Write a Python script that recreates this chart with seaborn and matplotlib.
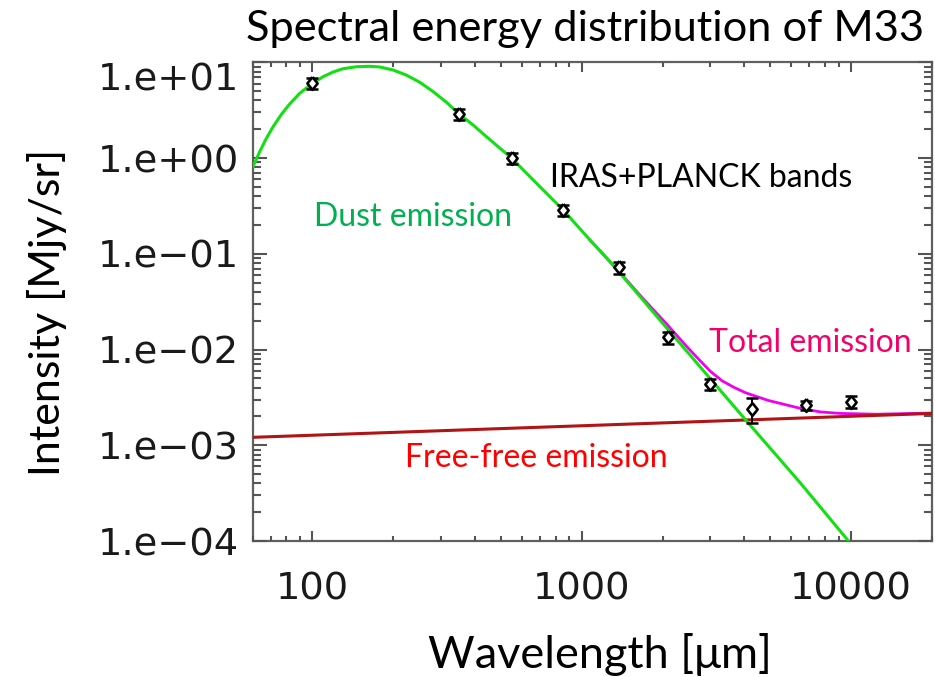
import numpy as np
import pandas as pd
import matplotlib
matplotlib.use("Agg")
import matplotlib.pyplot as plt
import matplotlib.ticker as mticker
import matplotlib.transforms as mtransforms
import seaborn as sns

# IRAS 100 um + PLANCK band photometry of M33
band_wavelength = [100, 350, 550, 850, 1380, 2100, 3000, 4300, 6800, 10000]
band_intensity = [6.04, 2.88, 0.99, 0.286, 0.0721, 0.01337, 0.00435, 0.00242, 0.00262, 0.00284]
band_error = [0.8, 0.38, 0.13, 0.038, 0.010, 0.0019, 0.0006, 0.0007, 0.00027, 0.0004]

# Dust emission model
dust_wavelength = [60.1, 63.7, 67.45, 71.4, 76.7, 82.3, 89.7, 100, 109.5, 119.3, 130,
                   145.8, 163.3, 178, 199.4, 223, 250.6, 281, 314.8, 348, 395.4, 443,
                   550, 700, 854, 1074, 1221, 1387, 1690, 2070, 2527, 3000, 4225, 6479,
                   9790]
dust_intensity = [0.811, 1.164, 1.607, 2.12, 2.862, 3.667, 4.745, 6.03, 7.07, 7.92, 8.57,
                  8.99, 9.08, 8.93, 8.31, 7.36, 6.18, 4.93, 3.82, 2.93, 2.21, 1.67,
                  0.993, 0.501, 0.286, 0.139, 0.0946, 0.0628, 0.03282, 0.01674, 0.00874,
                  0.00497, 0.00162, 4.06e-4, 1.0e-4]

# Free-free emission model
ff_wavelength = [60, 20000]
ff_intensity = [1.21e-3, 2.15e-3]

# Total emission (dust + free-free)
total_wavelength = [1074, 1387, 1690, 2070, 2456, 2706, 3000, 3315, 3661, 4047, 4474,
                    4927, 5458, 6479, 7690, 9128, 12500, 20000]
total_intensity = [0.139, 0.0636, 0.0340, 0.0184, 0.01074, 0.00803, 0.00595, 0.00473,
                   0.00405, 0.00355, 0.00322, 0.00294, 0.00274, 0.00243, 0.00223,
                   0.00215, 0.00211, 0.00217]

x_ticks = [100, 1000, 10000]
x_tick_labels = ["100", "1000", "10000"]
y_ticks = [1e-4, 1e-3, 1e-2, 1e-1, 1e0, 1e1]
y_tick_labels = ["1.e\u221204", "1.e\u221203", "1.e\u221202", "1.e\u221201", "1.e+00", "1.e+01"]

bands = pd.DataFrame({"wavelength": band_wavelength, "intensity": band_intensity,
                      "error": band_error})
dust = pd.DataFrame({"wavelength": dust_wavelength, "intensity": dust_intensity})
ff = pd.DataFrame({"wavelength": ff_wavelength, "intensity": ff_intensity})
total = pd.DataFrame({"wavelength": total_wavelength, "intensity": total_intensity})

axis_grey = "#555555"
sns.set_theme(style="ticks")
plt.rcParams["font.family"] = ["DejaVu Sans"]
plt.rcParams.update({
    "axes.axisbelow": False,
    "xtick.direction": "in", "ytick.direction": "in",
    "xtick.top": True, "ytick.right": True,
    "xtick.bottom": True, "ytick.left": True,
    "xtick.color": axis_grey, "ytick.color": axis_grey,
    "xtick.labelcolor": "#1a1a1a", "ytick.labelcolor": "#1a1a1a",
    "xtick.labelsize": 27.6, "ytick.labelsize": 27.6,
    "xtick.minor.visible": True, "ytick.minor.visible": True,
})

W, H = 935, 677
fig = plt.figure(figsize=(W / 100, H / 100), dpi=100)
fig.patch.set_facecolor("white")
ax_l, ax_r, ax_t, ax_b = 252.7, 932.0, 62.3, 541.0
ax = fig.add_axes([ax_l / W, 1 - ax_b / H, (ax_r - ax_l) / W, (ax_b - ax_t) / H])
ax.set_facecolor("white")

ax.set_xscale("log")
ax.set_yscale("log")

sns.lineplot(data=total, x="wavelength", y="intensity", ax=ax, color="#f000f0",
             linewidth=2.0, estimator=None, zorder=2)
sns.lineplot(data=ff, x="wavelength", y="intensity", ax=ax, color="#b01414",
             linewidth=2.2, estimator=None, zorder=3)
sns.lineplot(data=dust, x="wavelength", y="intensity", ax=ax, color="#12e012",
             linewidth=2.2, estimator=None, zorder=4)

ax.errorbar(bands["wavelength"], bands["intensity"], yerr=bands["error"], fmt="none",
            ecolor="black", elinewidth=1.4, capsize=4.2, capthick=1.8, zorder=5)
diamond = [(0, 1), (0.8, 0), (0, -1), (-0.8, 0), (0, 1)]
sns.scatterplot(data=bands, x="wavelength", y="intensity", ax=ax, marker=diamond,
                s=85, facecolor="white", edgecolor="black", linewidth=1.9, zorder=6)

ax.set_xlim(60, 20000)
ax.set_ylim(1e-4, 1e1)

ax.xaxis.set_major_locator(mticker.FixedLocator(x_ticks))
ax.xaxis.set_major_formatter(mticker.FixedFormatter(x_tick_labels))
ax.xaxis.set_minor_locator(mticker.LogLocator(base=10, subs=range(2, 10), numticks=20))
ax.xaxis.set_minor_formatter(mticker.NullFormatter())
ax.yaxis.set_major_locator(mticker.FixedLocator(y_ticks))
ax.yaxis.set_major_formatter(mticker.FixedFormatter(y_tick_labels))
ax.yaxis.set_minor_locator(mticker.LogLocator(base=10, subs=range(2, 10), numticks=20))
ax.yaxis.set_minor_formatter(mticker.NullFormatter())

for sp in ax.spines.values():
    sp.set_visible(True)
    sp.set_color("#606060")
    sp.set_linewidth(1.6)
ax.set_axisbelow(False)

ax.tick_params(which="both", direction="in", top=True, right=True, bottom=True, left=True,
               color=axis_grey, width=1.5)
ax.tick_params(axis="y", which="major", length=10, pad=10)
ax.tick_params(axis="y", which="minor", length=5.8)
ax.tick_params(axis="x", which="major", length=7.2, pad=22)
ax.tick_params(axis="x", which="minor", length=3.6)

# push the topmost y label down below the frame corner
for tick in ax.yaxis.get_major_ticks():
    if abs(tick.get_loc() - 10) < 1e-6:
        lab = tick.label1
        lab.set_transform(lab.get_transform() +
                          mtransforms.ScaledTranslation(0, -14 / 100, fig.dpi_scale_trans))

sans = ["Lato", "DejaVu Sans"]
ax.set_xlabel("Wavelength [\u03bcm]", family=sans, fontsize=32.5, color="black")
ax.set_ylabel("Intensity [Mjy/sr]", family=sans, fontsize=31, color="black")
ax.xaxis.set_label_coords((600 - ax_l) / (ax_r - ax_l), -(655 - ax_b) / (ax_b - ax_t))
ax.yaxis.set_label_coords((47 - ax_l) / (ax_r - ax_l), 1 - (312 - ax_t) / (ax_b - ax_t))
ax.xaxis.label.set_va("center")
ax.yaxis.label.set_va("center")

fig.text(585 / W, 1 - 41 / H, "Spectral energy distribution of M33", family=sans,
         fontsize=31.2, ha="center", va="baseline", color="black")


def note(x, y, s, color):
    fig.text(x / W, 1 - y / H, s, family=sans, fontsize=23, ha="center",
             va="baseline", color=color)


note(412.7, 225.7, "Dust emission", "#00b050")
note(701.5, 187.3, "IRAS+PLANCK bands", "black")
note(810.0, 351.7, "Total emission", "#f5006a")
note(536.0, 466.7, "Free-free emission", "#ff0000")

fig.savefig("out.png", dpi=100, facecolor="white")
